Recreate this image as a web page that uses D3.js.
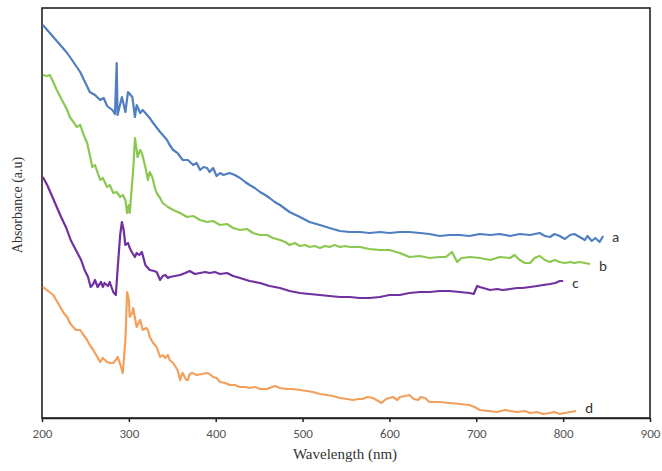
<!DOCTYPE html>
<html><head><meta charset="utf-8">
<script src="https://cdn.jsdelivr.net/npm/d3@7"></script>
<style>body{margin:0;background:#fff;}svg{display:block;}</style>
</head><body>
<svg id="chart" width="662" height="471"></svg>
<script>
// Wavelength (nm) / absorbance (a.u., arbitrary offset units)
const seriesA = [[201,3.93],[229,3.65],[244,3.46],[255,3.26],[261,3.23],[267,3.18],[271,3.20],[275,3.12],[281,3.08],[284,3.04],[286,3.55],[287,3.03],[292,3.21],[296,3.06],[299,3.26],[304,3.21],[307,3.01],[309,3.13],[313,3.05],[316,3.08],[321,3.03],[324,3.00],[328,2.95],[336,2.86],[344,2.78],[347,2.73],[351,2.68],[356,2.65],[362,2.58],[368,2.58],[374,2.53],[378,2.55],[382,2.48],[386,2.51],[390,2.50],[393,2.46],[397,2.50],[401,2.42],[405,2.45],[409,2.43],[416,2.45],[422,2.43],[428,2.40],[434,2.36],[439,2.33],[445,2.30],[451,2.26],[457,2.23],[462,2.20],[468,2.16],[474,2.13],[485,2.06],[497,2.01],[508,1.96],[520,1.93],[531,1.90],[543,1.87],[554,1.86],[566,1.86],[577,1.85],[589,1.86],[600,1.85],[612,1.86],[623,1.86],[635,1.85],[646,1.84],[658,1.82],[669,1.83],[681,1.83],[692,1.82],[704,1.84],[716,1.83],[727,1.84],[739,1.82],[750,1.84],[762,1.83],[773,1.85],[779,1.82],[785,1.81],[790,1.84],[796,1.82],[802,1.79],[808,1.83],[813,1.84],[819,1.81],[825,1.78],[828,1.82],[833,1.77],[837,1.80],[842,1.76],[846,1.82]];
const seriesB = [[201,3.43],[206,3.42],[209,3.43],[213,3.36],[217,3.28],[223,3.18],[229,3.08],[232,3.01],[237,2.95],[240,2.91],[244,2.93],[248,2.83],[252,2.75],[255,2.63],[258,2.51],[261,2.53],[263,2.48],[267,2.38],[270,2.40],[275,2.31],[278,2.33],[282,2.25],[286,2.26],[290,2.21],[293,2.23],[296,2.18],[298,2.05],[300,2.13],[301,2.05],[305,2.48],[307,2.80],[309,2.68],[310,2.61],[313,2.68],[315,2.65],[319,2.51],[322,2.38],[324,2.46],[327,2.41],[330,2.30],[332,2.25],[336,2.20],[339,2.15],[345,2.11],[351,2.08],[359,2.05],[367,2.01],[374,2.02],[382,1.98],[390,1.96],[397,1.97],[405,1.93],[413,1.94],[420,1.90],[428,1.88],[436,1.89],[443,1.85],[451,1.83],[459,1.83],[466,1.80],[474,1.78],[480,1.76],[485,1.73],[491,1.75],[497,1.72],[503,1.73],[508,1.71],[514,1.72],[520,1.70],[526,1.72],[531,1.71],[537,1.73],[543,1.71],[549,1.72],[554,1.71],[566,1.71],[577,1.69],[589,1.68],[600,1.68],[612,1.65],[623,1.61],[635,1.62],[646,1.60],[658,1.61],[665,1.61],[672,1.66],[678,1.56],[683,1.60],[693,1.61],[704,1.60],[716,1.58],[727,1.61],[739,1.60],[744,1.63],[750,1.58],[756,1.55],[762,1.55],[767,1.60],[773,1.62],[779,1.58],[785,1.56],[790,1.58],[796,1.56],[802,1.55],[808,1.56],[813,1.55],[819,1.56],[825,1.55],[831,1.54]];
const seriesC = [[201,2.41],[206,2.33],[210,2.25],[216,2.13],[222,2.01],[228,1.90],[233,1.78],[239,1.68],[245,1.58],[249,1.48],[253,1.41],[256,1.31],[259,1.34],[261,1.38],[264,1.31],[268,1.36],[270,1.31],[272,1.35],[276,1.32],[278,1.36],[282,1.26],[285,1.23],[287,1.48],[290,1.83],[292,1.96],[294,1.88],[296,1.73],[299,1.75],[301,1.70],[304,1.65],[307,1.61],[309,1.65],[312,1.63],[315,1.66],[319,1.53],[322,1.50],[324,1.48],[329,1.47],[332,1.46],[336,1.38],[339,1.42],[342,1.43],[345,1.40],[347,1.41],[353,1.42],[359,1.43],[365,1.45],[370,1.47],[376,1.44],[382,1.45],[388,1.46],[393,1.45],[399,1.46],[405,1.44],[413,1.45],[420,1.42],[428,1.40],[439,1.37],[451,1.35],[462,1.32],[474,1.30],[485,1.27],[497,1.25],[508,1.24],[520,1.23],[531,1.22],[543,1.21],[554,1.21],[566,1.20],[577,1.20],[589,1.21],[600,1.23],[612,1.23],[623,1.25],[635,1.26],[646,1.26],[658,1.27],[669,1.27],[681,1.26],[692,1.25],[697,1.24],[701,1.32],[704,1.31],[708,1.30],[716,1.28],[724,1.29],[730,1.28],[739,1.29],[747,1.30],[753,1.30],[762,1.31],[770,1.32],[777,1.33],[785,1.34],[791,1.35],[796,1.37],[800,1.37]];
const seriesD = [[201,1.31],[207,1.27],[213,1.23],[217,1.17],[221,1.11],[225,1.05],[229,1.01],[232,0.95],[236,0.91],[239,0.88],[244,0.88],[247,0.84],[252,0.78],[255,0.73],[259,0.68],[263,0.62],[267,0.56],[270,0.60],[275,0.56],[278,0.55],[282,0.55],[285,0.58],[287,0.61],[290,0.54],[292,0.48],[293,0.45],[296,0.78],[298,1.26],[300,1.18],[301,1.01],[304,1.05],[305,1.10],[307,1.00],[309,0.91],[313,0.98],[316,0.88],[320,0.90],[322,0.88],[324,0.81],[328,0.75],[332,0.71],[336,0.61],[339,0.63],[342,0.60],[345,0.63],[347,0.58],[351,0.55],[354,0.51],[356,0.48],[359,0.38],[361,0.44],[362,0.45],[366,0.38],[368,0.38],[370,0.44],[373,0.45],[378,0.43],[384,0.44],[390,0.45],[393,0.44],[397,0.41],[401,0.40],[405,0.36],[411,0.35],[416,0.33],[422,0.33],[428,0.31],[434,0.31],[439,0.30],[445,0.31],[451,0.29],[459,0.29],[465,0.31],[468,0.32],[474,0.30],[482,0.29],[489,0.29],[497,0.28],[505,0.27],[512,0.26],[520,0.24],[528,0.23],[535,0.22],[543,0.20],[551,0.19],[558,0.18],[564,0.19],[569,0.19],[575,0.21],[581,0.20],[587,0.17],[591,0.15],[596,0.19],[600,0.20],[604,0.21],[609,0.18],[612,0.21],[618,0.22],[623,0.23],[628,0.19],[633,0.18],[636,0.21],[641,0.20],[646,0.16],[658,0.16],[669,0.15],[681,0.14],[692,0.13],[698,0.11],[704,0.08],[714,0.07],[724,0.06],[733,0.08],[739,0.07],[747,0.06],[756,0.07],[762,0.05],[770,0.06],[777,0.04],[785,0.05],[790,0.06],[796,0.04],[802,0.05],[808,0.06],[815,0.07]];
const seriesNames = ["a","b","c","d"];
const seriesColors = ["#4f7fc0","#8cc850","#7030a0","#f2a05c"];
const labelShift = [0, 1, 1, -4];
const xTicks = [200,300,400,500,600,700,800,900];
const xTitle = "Wavelength (nm)";
const yTitle = "Absorbance (a.u)";

const svg = d3.select("#chart");
const m = {left:42, top:8, right:650, bottom:418};
const x = d3.scaleLinear().domain([200,900]).range([m.left, m.right]);
const y = d3.scaleLinear().domain([0,4.1]).range([m.bottom, m.top]);

// frame
svg.append("rect").attr("x",m.left).attr("y",m.top)
  .attr("width",m.right-m.left).attr("height",m.bottom-m.top)
  .attr("fill","none").attr("stroke","#222").attr("stroke-width",1.6);

const xAxis = svg.append("g").attr("transform",`translate(0,${m.bottom})`)
  .call(d3.axisBottom(x).tickValues(xTicks).tickSize(4).tickSizeOuter(0).tickFormat(d3.format("d")));
xAxis.select(".domain").attr("stroke","#222").attr("stroke-width",1.6);
xAxis.selectAll(".tick line").attr("stroke","#222").attr("stroke-width",1.5);
xAxis.selectAll(".tick text").attr("font-family","Carlito, 'Liberation Sans', sans-serif")
  .attr("font-size",13).attr("fill","#555").attr("dy","1.0em");

svg.append("text").attr("x",345).attr("y",459).attr("text-anchor","middle")
  .attr("font-family","'Liberation Serif', 'Times New Roman', serif").attr("font-size",15).attr("fill","#333")
  .text(xTitle);
svg.append("text").attr("transform","translate(22,205) rotate(-90)").attr("text-anchor","middle")
  .attr("font-family","'Liberation Serif', 'Times New Roman', serif").attr("font-size",14).attr("fill","#333")
  .text(yTitle);

const all = [seriesA, seriesB, seriesC, seriesD];
const line = d3.line().x(d=>x(d[0])).y(d=>y(d[1])).curve(d3.curveLinear);
all.forEach((s,i)=>{
  svg.append("path").datum(s).attr("d",line).attr("fill","none")
    .attr("stroke",seriesColors[i]).attr("stroke-width",2.2).attr("stroke-linejoin","round");
  const last = s[s.length-1];
  svg.append("text").attr("x",x(last[0])+9).attr("y",y(last[1])+2+labelShift[i])
    .attr("font-family","Carlito, 'Liberation Sans', sans-serif").attr("font-size",15).attr("fill","#333")
    .attr("dominant-baseline","middle").text(seriesNames[i]);
});
</script>
</body></html>
